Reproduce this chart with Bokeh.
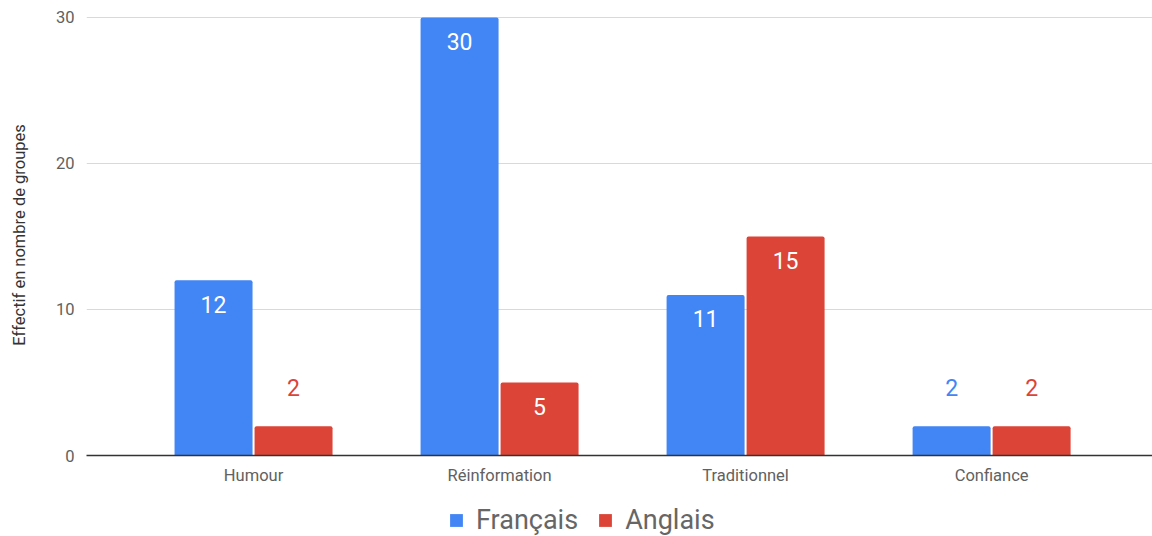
from bokeh.plotting import figure
from bokeh.layouts import column
from bokeh.models import Range1d, FixedTicker, Legend, LegendItem, ColumnDataSource
from bokeh.core.properties import value
from bokeh.embed import file_html
from bokeh.resources import INLINE

categories = ["Humour", "Réinformation", "Traditionnel", "Confiance"]
francais = [12, 30, 11, 2]
anglais = [2, 5, 15, 2]
series_names = ["Français", "Anglais"]
y_ticks = [0, 10, 20, 30]

BLUE = "#4285F4"
RED = "#DB4437"
FONT = "Roboto"

xs = list(range(len(categories)))
off = 0.1626
bw = 0.317

p = figure(width=1152, height=500, output_backend="svg", toolbar_location=None,
           x_range=Range1d(-0.679, 3.654), y_range=Range1d(0, 30.205),
           min_border_left=86, min_border_right=0, min_border_top=14, min_border_bottom=45)
p.outline_line_color = None
p.background_fill_color = "white"

src_f = ColumnDataSource(dict(x=[x - off for x in xs], top=francais))
src_a = ColumnDataSource(dict(x=[x + off for x in xs], top=anglais))

rf = p.vbar(x="x", top="top", width=bw, source=src_f, fill_color=BLUE, line_color=None,
            border_radius=[2, 2, 0, 0])
ra = p.vbar(x="x", top="top", width=bw, source=src_a, fill_color=RED, line_color=None,
            border_radius=[2, 2, 0, 0])

# labels: inside bar (white) when tall, above bar (colored) when short
def split(vals, xpos):
    inside = dict(x=[], y=[], t=[])
    above = dict(x=[], y=[], t=[])
    for xv, v in zip(xpos, vals):
        d = inside if v >= 4 else above
        d["x"].append(xv); d["y"].append(v); d["t"].append(str(v))
    return inside, above

for vals, xpos, col in [(francais, src_f.data["x"], BLUE), (anglais, src_a.data["x"], RED)]:
    ins, abv = split(vals, xpos)
    p.text(x=ins["x"], y=ins["y"], text=ins["t"], y_offset=24, text_align="center",
           text_baseline="middle", text_color="white", text_font=value(FONT), text_font_size="23px")
    p.text(x=abv["x"], y=abv["y"], text=abv["t"], y_offset=-39, text_align="center",
           text_baseline="middle", text_color=col, text_font=value(FONT), text_font_size="23px")

# axes
p.xaxis.ticker = FixedTicker(ticks=xs)
p.xaxis.major_label_overrides = {i: c for i, c in enumerate(categories)}
p.xaxis.major_tick_line_color = None
p.xaxis.minor_tick_line_color = None
p.xaxis.axis_line_color = "#333333"
p.xaxis.axis_line_width = 1.3
p.xaxis.major_label_text_font = FONT
p.xaxis.major_label_text_font_size = "16.5px"
p.xaxis.major_label_text_color = "#616161"
p.xaxis.major_label_standoff = 4

p.yaxis.ticker = FixedTicker(ticks=y_ticks)
p.yaxis.axis_line_color = None
p.yaxis.major_tick_line_color = None
p.yaxis.minor_tick_line_color = None
p.yaxis.major_label_text_font = FONT
p.yaxis.major_label_text_font_size = "16.5px"
p.yaxis.major_label_text_color = "#616161"
p.yaxis.major_label_standoff = 6
p.yaxis.axis_label = "Effectif en nombre de groupes"
p.yaxis.axis_label_text_font = FONT
p.yaxis.axis_label_text_font_size = "16.5px"
p.yaxis.axis_label_text_font_style = "normal"
p.yaxis.axis_label_text_color = "#333333"
p.yaxis.axis_label_standoff = 24

p.xgrid.grid_line_color = None
p.ygrid.ticker = FixedTicker(ticks=y_ticks[1:])
p.ygrid.grid_line_color = "#d9d9d9"

# legend figure below (dummy bars kept outside its visible range)
lg = figure(width=1152, height=36, output_backend="svg", toolbar_location=None,
            x_range=Range1d(0, 1), y_range=Range1d(0, 1),
            x_axis_location=None, y_axis_location=None,
            min_border_left=0, min_border_right=0, min_border_top=0, min_border_bottom=0)
lg.outline_line_color = None
lg.xgrid.grid_line_color = None
lg.ygrid.grid_line_color = None
lf = lg.vbar(x=[10], top=[1], width=1, fill_color=BLUE, line_color=None)
la = lg.vbar(x=[10], top=[1], width=1, fill_color=RED, line_color=None)
legend = Legend(items=[LegendItem(label=series_names[0], renderers=[lf]),
                       LegendItem(label=series_names[1], renderers=[la])],
                orientation="horizontal", location=(362, 0),
                label_text_font=FONT, label_text_font_size="27px",
                label_text_color="#666666", glyph_width=16, glyph_height=16,
                spacing=19, label_standoff=12, border_line_color=None,
                background_fill_alpha=0, margin=0, padding=0)
lg.add_layout(legend, "center")

open("out.html", "w").write(file_html(column(p, lg, spacing=0), INLINE))
